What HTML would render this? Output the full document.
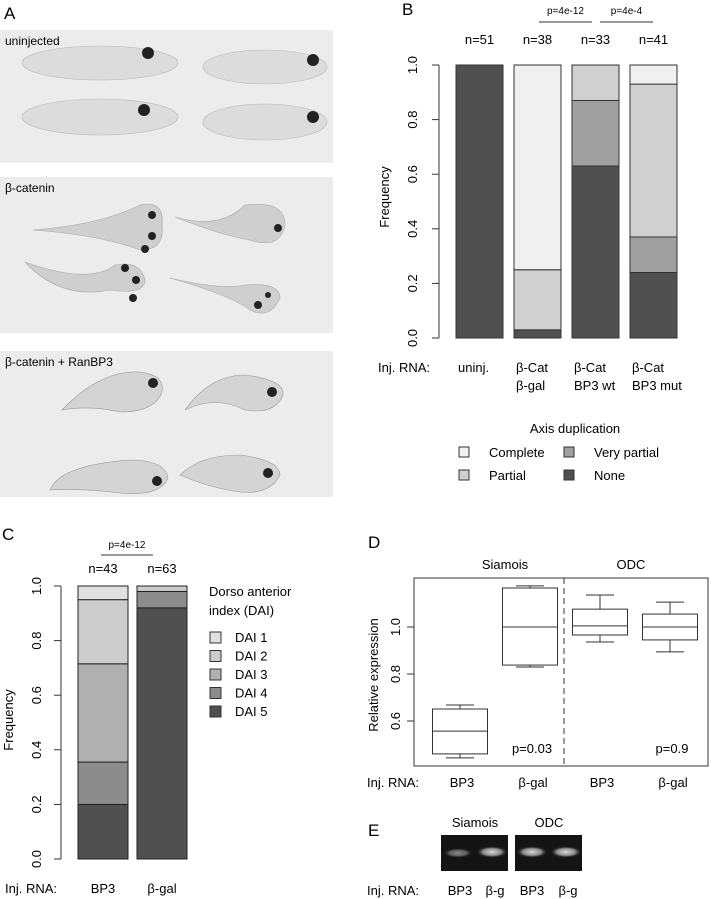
<!DOCTYPE html>
<html><head><meta charset="utf-8"><style>
html,body{margin:0;padding:0;background:#fff;}
svg{display:block;font-family:"Liberation Sans",sans-serif;}
</style></head><body>
<svg id="fig" width="711" height="899" viewBox="0 0 711 899">
<!-- Panel A -->
<g>
<text x="4" y="19" font-size="17">A</text>
<rect x="0" y="30" width="333" height="133" fill="#ececec"/>
<text x="5" y="45" font-size="12">uninjected</text>
<g fill="#dcdcdc" stroke="#bbb" stroke-width="0.6">
<ellipse cx="100" cy="63" rx="78" ry="17"/><ellipse cx="265" cy="67" rx="62" ry="17"/>
<ellipse cx="100" cy="117" rx="78" ry="18"/><ellipse cx="265" cy="122" rx="62" ry="18"/>
</g>
<g fill="#222"><circle cx="148" cy="53" r="6"/><circle cx="313" cy="60" r="6"/><circle cx="144" cy="110" r="6"/><circle cx="313" cy="117" r="6"/></g>
<rect x="0" y="177" width="333" height="156" fill="#ececec"/>
<text x="5" y="192" font-size="12">β-catenin</text>
<g fill="#cfcfcf" stroke="#aaa" stroke-width="0.6">
<path d="M33 230 Q100 225 140 205 Q165 200 162 225 Q165 250 140 250 Q100 235 33 230Z"/>
<path d="M175 217 Q220 230 245 205 Q285 200 285 225 Q280 250 250 240 Q220 235 175 217Z"/>
<path d="M25 262 Q60 300 110 290 Q145 295 145 280 Q140 260 115 265 Q90 285 25 262Z"/>
<path d="M170 278 Q220 290 245 285 Q280 282 280 298 Q270 320 250 310 Q230 295 170 278Z"/>
</g>
<g fill="#222"><circle cx="152" cy="215" r="4"/><circle cx="152" cy="236" r="4"/><circle cx="145" cy="249" r="4"/><circle cx="278" cy="228" r="4"/><circle cx="125" cy="268" r="4"/><circle cx="136" cy="280" r="4"/><circle cx="133" cy="298" r="4"/><circle cx="258" cy="305" r="4"/><circle cx="268" cy="295" r="3"/></g>
<rect x="0" y="351" width="333" height="146" fill="#ececec"/>
<text x="5" y="366" font-size="12">β-catenin + RanBP3</text>
<g fill="#d4d4d4" stroke="#999" stroke-width="0.6">
<path d="M62 410 Q100 370 140 372 Q165 375 162 392 Q155 412 120 412 Q90 405 62 410Z"/>
<path d="M185 410 Q210 375 245 375 Q285 380 283 395 Q275 415 245 410 Q215 395 185 410Z"/>
<path d="M50 490 Q60 465 130 460 Q165 460 168 478 Q160 497 120 493 Q80 488 50 490Z"/>
<path d="M180 475 Q200 455 240 455 Q280 460 280 475 Q270 495 240 492 Q210 488 180 475Z"/>
</g>
<g fill="#222"><circle cx="153" cy="383" r="5"/><circle cx="272" cy="392" r="5"/><circle cx="157" cy="481" r="5"/><circle cx="268" cy="473" r="5"/></g>
</g>

<!-- Panel B -->
<g id="pb">
<text x="402" y="15" font-size="17">B</text>
</g>
<!-- Panel C -->
<g id="pc">
<text x="2" y="540" font-size="17">C</text>
</g>
<!-- Panel D -->
<g id="pd">
<text x="368" y="548" font-size="17">D</text>
</g>
<!-- Panel E -->
<g id="pe">
<text x="368" y="836" font-size="17">E</text>
<text x="475" y="827" font-size="13" text-anchor="middle">Siamois</text>
<text x="549" y="827" font-size="13" text-anchor="middle">ODC</text>
<defs>
<radialGradient id="band" cx="0.5" cy="0.5" r="0.5"><stop offset="0" stop-color="#d8d8d8"/><stop offset="0.6" stop-color="#888"/><stop offset="1" stop-color="#111" stop-opacity="0"/></radialGradient>
</defs>
<rect x="441" y="835" width="67" height="36" fill="#141414"/>
<rect x="515" y="835" width="67" height="36" fill="#141414"/>
<ellipse cx="458" cy="853" rx="15" ry="5" fill="url(#band)" opacity="0.6"/>
<ellipse cx="492" cy="852" rx="16" ry="6" fill="url(#band)"/>
<ellipse cx="532" cy="852" rx="16" ry="6" fill="url(#band)"/>
<ellipse cx="566" cy="852" rx="16" ry="6" fill="url(#band)"/>
<text x="367" y="895" font-size="13">Inj. RNA:</text>
<text x="460" y="895" font-size="13" text-anchor="middle">BP3</text>
<text x="495" y="895" font-size="13" text-anchor="middle">β-g</text>
<text x="532" y="895" font-size="13" text-anchor="middle">BP3</text>
<text x="568" y="895" font-size="13" text-anchor="middle">β-g</text>
</g>
</svg>
<script>
// ---- Panel B data ----
const bCategories = ["uninj.", "β-Cat|β-gal", "β-Cat|BP3 wt", "β-Cat|BP3 mut"];
const bCounts = ["n=51", "n=38", "n=33", "n=41"];
const bNone = [1.0, 0.03, 0.63, 0.24];
const bVeryPartial = [0.0, 0.0, 0.24, 0.13];
const bPartial = [0.0, 0.22, 0.13, 0.56];
const bComplete = [0.0, 0.75, 0.0, 0.07];
const bTicks = [0, 0.2, 0.4, 0.6, 0.8, 1.0];
// ---- Panel C data ----
const cCategories = ["BP3", "β-gal"];
const cCounts = ["n=43", "n=63"];
const cDai5 = [0.20, 0.92];
const cDai4 = [0.155, 0.06];
const cDai3 = [0.36, 0.0];
const cDai2 = [0.235, 0.02];
const cDai1 = [0.05, 0.0];
const cTicks = [0, 0.2, 0.4, 0.6, 0.8, 1.0];
// ---- Panel D data ----
const dCategories = ["BP3", "β-gal", "BP3", "β-gal"];
const dWhiskLo = [0.443, 0.83, 0.936, 0.894];
const dQ1 = [0.46, 0.838, 0.966, 0.945];
const dMedian = [0.557, 1.0, 1.005, 1.0];
const dQ3 = [0.651, 1.166, 1.076, 1.055];
const dWhiskHi = [0.668, 1.175, 1.136, 1.106];
const dTicks = [0.6, 0.8, 1.0];

const NS = "http://www.w3.org/2000/svg";
function mk(parent, tag, attrs, text) {
  const e = document.createElementNS(NS, tag);
  for (const k in attrs) e.setAttribute(k, attrs[k]);
  if (text !== undefined) e.textContent = text;
  parent.appendChild(e);
  return e;
}

// ===== Panel B =====
(function(){
  const g = document.getElementById("pb");
  const y = v => 338 - v * 273;
  const x = i => 456 + i * 58;
  const bw = 47;
  const line = mk(g, "line", {x1:439, x2:439, y1:y(0), y2:y(1), stroke:"#333"});
  
  
  bTicks.forEach(t => {
    const tk = mk(g, "line", {x1:432, x2:439, y1:y(t), y2:y(t), stroke:"#333"});
    
    
    const tl = mk(g, "text", {x:0, y:0, "font-size":13, "text-anchor":"middle", transform:`translate(417,${y(t)}) rotate(-90)`}, t.toFixed(1));
    
    
  });
  const yt = mk(g, "text", {x:0, y:0, "font-size":13, "text-anchor":"middle", transform:"translate(389,197) rotate(-90)"}, "Frequency");
  
  
  const series = [[bNone,"#505050","none"],[bVeryPartial,"#a0a0a0","very-partial"],[bPartial,"#d0d0d0","partial"],[bComplete,"#f0f0f0","complete"]];
  bCategories.forEach((c, i) => {
    let acc = 0;
    series.forEach(([arr, col, nm]) => {
      const v = arr[i];
      if (v > 0) {
        const r = mk(g, "rect", {x:x(i), y:y(acc+v), width:bw, height:y(acc)-y(acc+v), fill:col, stroke:"#333", "stroke-width":1});
        
        
      }
      acc += v;
    });
    const n = mk(g, "text", {x:x(i)+bw/2, y:44, "font-size":13, "text-anchor":"middle"}, bCounts[i]);
    
    
    c.split("|").forEach((ln, k) => {
      const t = mk(g, "text", {x:x(i)+2, y:372+k*18, "font-size":13}, ln);
      
      
    });
  });
  const ir = mk(g, "text", {x:378, y:372, "font-size":13}, "Inj. RNA:");
  
  
  [[539,592,"p=4e-12"],[600,653,"p=4e-4"]].forEach(([a,b,s]) => {
    const l = mk(g, "line", {x1:a, x2:b, y1:22, y2:22, stroke:"#333"});
    
    
    const t = mk(g, "text", {x:(a+b)/2, y:14, "font-size":10, "text-anchor":"middle"}, s);
    
    
  });
  const lt = mk(g, "text", {x:575, y:433, "font-size":13, "text-anchor":"middle"}, "Axis duplication");
  
  
  [[463,452,"#f0f0f0","Complete"],[568,452,"#a0a0a0","Very partial"],[463,475,"#d0d0d0","Partial"],[568,475,"#505050","None"]].forEach(([lx,ly,col,s]) => {
    const r = mk(g, "rect", {x:lx-4, y:ly-5, width:10, height:10, fill:col, stroke:"#333"});
    
    
    const t = mk(g, "text", {x:lx+26, y:ly+5, "font-size":13}, s);
    
    
  });
})();

// ===== Panel C =====
(function(){
  const g = document.getElementById("pc");
  const y = v => 859 - v * 273;
  const x = i => 78 + i * 59;
  const bw = 50;
  const ax = mk(g, "line", {x1:61, x2:61, y1:y(0), y2:y(1), stroke:"#333"});
  
  
  cTicks.forEach(t => {
    const tk = mk(g, "line", {x1:54, x2:61, y1:y(t), y2:y(t), stroke:"#333"});
    
    
    const tl = mk(g, "text", {x:0, y:0, "font-size":13, "text-anchor":"middle", transform:`translate(41,${y(t)}) rotate(-90)`}, t.toFixed(1));
    
    
  });
  const yt = mk(g, "text", {x:0, y:0, "font-size":13, "text-anchor":"middle", transform:"translate(13,720) rotate(-90)"}, "Frequency");
  
  
  const series = [[cDai5,"#505050","dai5"],[cDai4,"#8c8c8c","dai4"],[cDai3,"#b0b0b0","dai3"],[cDai2,"#cccccc","dai2"],[cDai1,"#e0e0e0","dai1"]];
  cCategories.forEach((c, i) => {
    let acc = 0;
    series.forEach(([arr, col, nm]) => {
      const v = arr[i];
      if (v > 0) {
        const r = mk(g, "rect", {x:x(i), y:y(acc+v), width:bw, height:y(acc)-y(acc+v), fill:col, stroke:"#222", "stroke-width":1});
        
        
      }
      acc += v;
    });
    const n = mk(g, "text", {x:x(i)+bw/2, y:573, "font-size":13, "text-anchor":"middle"}, cCounts[i]);
    
    
    const t = mk(g, "text", {x:x(i)+bw/2, y:893, "font-size":13, "text-anchor":"middle"}, c);
    
    
  });
  const ir = mk(g, "text", {x:5, y:893, "font-size":13}, "Inj. RNA:");
  
  
  const pl = mk(g, "line", {x1:101, x2:153, y1:555, y2:555, stroke:"#333"});
  
  
  const pt = mk(g, "text", {x:127, y:548, "font-size":10, "text-anchor":"middle"}, "p=4e-12");
  
  
  ["Dorso anterior","index (DAI)"].forEach((s,k) => {
    const t = mk(g, "text", {x:209, y:596+k*19, "font-size":13}, s);
    
    
  });
  [["#e0e0e0","DAI 1"],["#cccccc","DAI 2"],["#b0b0b0","DAI 3"],["#8c8c8c","DAI 4"],["#505050","DAI 5"]].forEach(([col,s],k) => {
    const ly = 637 + k*18.5;
    const r = mk(g, "rect", {x:210, y:ly-5, width:11, height:11, fill:col, stroke:"#333"});
    
    
    const t = mk(g, "text", {x:235, y:ly+5, "font-size":13}, s);
    
    
  });
})();

// ===== Panel D =====
(function(){
  const g = document.getElementById("pd");
  const y = v => 627 - (v - 1.0) * 235;
  const xc = i => 460 + i * 70;
  const bw = 55;
  const fr = mk(g, "rect", {x:414, y:578, width:294, height:188, fill:"none", stroke:"#333"});
  
  
  const dl = mk(g, "line", {x1:564, x2:564, y1:578, y2:766, stroke:"#333", "stroke-dasharray":"6,4"});
  
  
  dTicks.forEach(t => {
    const tk = mk(g, "line", {x1:407, x2:414, y1:y(t), y2:y(t), stroke:"#333"});
    
    
    const tl = mk(g, "text", {x:0, y:0, "font-size":13, "text-anchor":"middle", transform:`translate(400,${y(t)}) rotate(-90)`}, t.toFixed(1));
    
    
  });
  const yt = mk(g, "text", {x:0, y:0, "font-size":13, "text-anchor":"middle", transform:"translate(378,675) rotate(-90)"}, "Relative expression");
  
  
  dCategories.forEach((c, i) => {
    const cx = xc(i), l = cx - bw/2;
    const bx = mk(g, "rect", {x:l, y:y(dQ3[i]), width:bw, height:y(dQ1[i])-y(dQ3[i]), fill:"#fff", stroke:"#333"});
    
    
    const md = mk(g, "line", {x1:l, x2:l+bw, y1:y(dMedian[i]), y2:y(dMedian[i]), stroke:"#333"});
    
    
    [[dWhiskHi[i], dQ3[i]], [dWhiskLo[i], dQ1[i]]].forEach(([w, q]) => {
      const wl = mk(g, "line", {x1:cx, x2:cx, y1:y(w), y2:y(q), stroke:"#333"});
      
      
      const wc = mk(g, "line", {x1:cx-14, x2:cx+14, y1:y(w), y2:y(w), stroke:"#333"});
      
      
    });
    const t = mk(g, "text", {x:cx + (i%2 ? 3 : 2), y:787, "font-size":13, "text-anchor":"middle"}, c);
    
    
  });
  const ir = mk(g, "text", {x:367, y:787, "font-size":13}, "Inj. RNA:");
  
  
  [[505,"Siamois"],[631,"ODC"]].forEach(([xx,s]) => {
    const t = mk(g, "text", {x:xx, y:569, "font-size":13, "text-anchor":"middle"}, s);
    
    
  });
  [[532,"p=0.03"],[672,"p=0.9"]].forEach(([xx,s]) => {
    const t = mk(g, "text", {x:xx, y:753, "font-size":13, "text-anchor":"middle"}, s);
    
    
  });
})();
</script>
</body></html>
